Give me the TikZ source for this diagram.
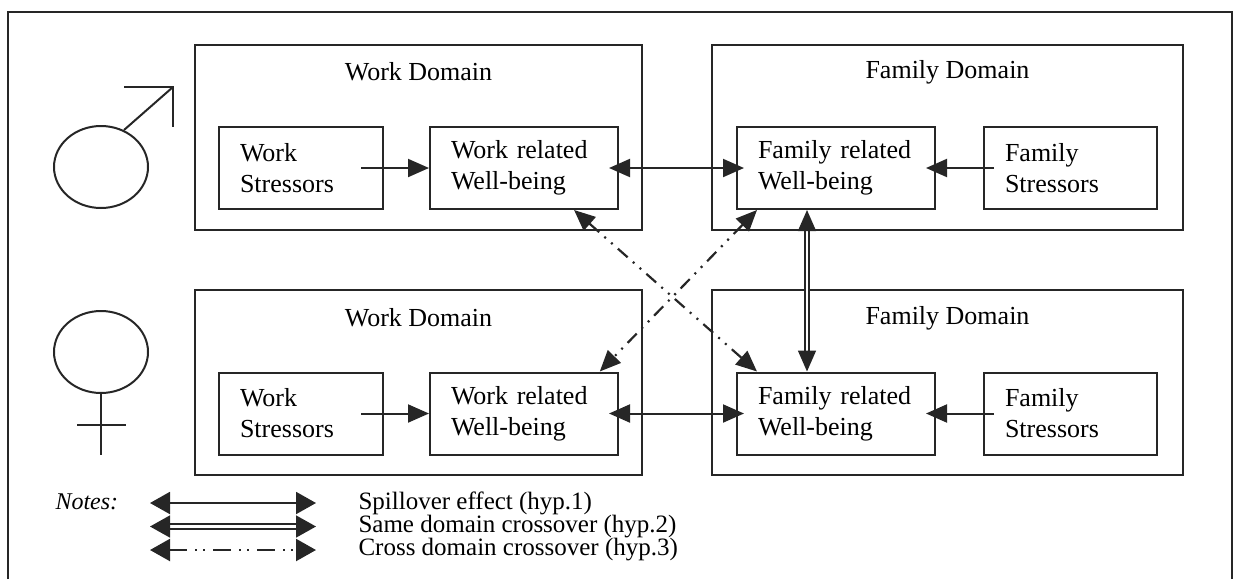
\documentclass[tikz,border=0pt]{standalone}
\usepackage{fontspec}
\setmainfont{Liberation Serif}
\usetikzlibrary{arrows.meta}
\tikzset{
  ink/.style={draw=black!85, line width=2pt},
  box/.style={ink, minimum height=82pt, inner xsep=21pt, align=left,
    font=\fontsize{26}{31}\selectfont},
  domain/.style={ink, minimum width=#1, minimum height=185pt},
  title/.style={font=\fontsize{26}{31}\selectfont},
  note/.style={font=\fontsize{25}{28}\selectfont, anchor=west},
  tip/.style={{Triangle[length=21pt,width=18pt]}-{Triangle[length=21pt,width=18pt]}},
  push/.style={line width=2pt, -{Triangle[length=21pt,width=18pt]}},
  spill/.style={line width=2pt, tip},
  same/.style={line width=1.6pt, double distance=2.2pt, tip},
  cross/.style={line width=2.2pt, tip,
    dash pattern=on 13pt off 7pt on 2pt off 7pt on 2pt off 7pt},
  keytip/.style={{Triangle[length=20pt,width=22pt]}-{Triangle[length=20pt,width=22pt]}}
}
\begin{document}
\begin{tikzpicture}[x=1pt, y=-1pt]
  \useasboundingbox (0,0) rectangle (1234,579);
  \draw[ink] (8,579) -- (8,12) -- (1232,12) -- (1232,579);
  % gender signs
  \draw[ink] (101,167) ellipse [x radius=47pt, y radius=41pt];
  \draw[ink] (124,130) -- (173,87);
  \draw[ink] (124,87) -- (173,87) -- (173,127);
  \draw[ink] (101,352) ellipse [x radius=47pt, y radius=41pt];
  \draw[ink] (101,393) -- (101,455);
  \draw[ink] (77,425) -- (126,425);
  % domains
  \node[domain=447pt] (wdm) at (418.5,137) {};
  \node[domain=471pt] (fdm) at (947.5,137) {};
  \node[domain=447pt] (wdf) at (418.5,382.5) {};
  \node[domain=471pt] (fdf) at (947.5,382.5) {};
  \node[title] at (418.5,72) {Work Domain};
  \node[title] at (947.5,72) {Family Domain};
  \node[title] at (418.5,318) {Work Domain};
  \node[title] at (947.5,318) {Family Domain};
  % boxes
  \node[box, text width=122pt] (wsm) at (301,168) {Work\\Stressors};
  \node[box, text width=146pt] (wrm) at (524,168) {Work related\\Well-being};
  \node[box, text width=156pt] (frm) at (836,168) {Family related\\Well-being};
  \node[box, text width=131pt] (fsm) at (1070.5,168) {Family\\Stressors};
  \node[box, text width=122pt] (wsf) at (301,413.5) {Work\\Stressors};
  \node[box, text width=146pt] (wrf) at (524,413.5) {Work related\\Well-being};
  \node[box, text width=156pt] (frf) at (836,413.5) {Family related\\Well-being};
  \node[box, text width=131pt] (fsf) at (1070.5,413.5) {Family\\Stressors};
  \begin{scope}[draw=black!85]
    \draw[push] ([xshift=-23pt]wsm.east) -- (wrm.west);
    \draw[push] ([xshift=-23pt]wsf.east) -- (wrf.west);
    \draw[push, shorten >=-10pt] ([xshift=11pt]fsm.west) -- (frm.east);
    \draw[push, shorten >=-10pt] ([xshift=11pt]fsf.west) -- (frf.east);
    \draw[spill, shorten <=-10pt, shorten >=-8pt] (wrm.east) -- (frm.west);
    \draw[spill, shorten <=-10pt, shorten >=-8pt] (wrf.east) -- (frf.west);
    \draw[same] ([xshift=-29pt]frm.south) -- ([xshift=-29pt]frf.north);
    \draw[cross] (wrm.-40) -- (frf.152);
    \draw[cross] (frm.-152) -- (wrf.29);
  \end{scope}
  % notes
  \node[note, font=\fontsize{24}{28}\selectfont\itshape] (notes) at (52,502) {Notes:};
  \coordinate (k1a) at (150,503);
  \coordinate (k1b) at (316,503);
  \coordinate (k2a) at (150,526.5);
  \coordinate (k2b) at (316,526.5);
  \coordinate (k3a) at (150,550);
  \coordinate (k3b) at (316,550);
  \draw[draw=black!85, line width=2pt, keytip] (k1a) -- (k1b);
  \draw[draw=black!85, line width=1.6pt, double distance=3.4pt, keytip] (k2a) -- (k2b);
  \draw[draw=black!85, line width=2.2pt, keytip,
    dash pattern=on 18pt off 8pt on 2pt off 6pt on 2pt off 8pt] (k3a) -- (k3b);
  \node[note] (n1) at (355,503) {Spillover effect (hyp.1)};
  \node[note] (n2) at (355,526.5) {Same domain crossover (hyp.2)};
  \node[note] (n3) at (355,550) {Cross domain crossover (hyp.3)};
\end{tikzpicture}
\end{document}
